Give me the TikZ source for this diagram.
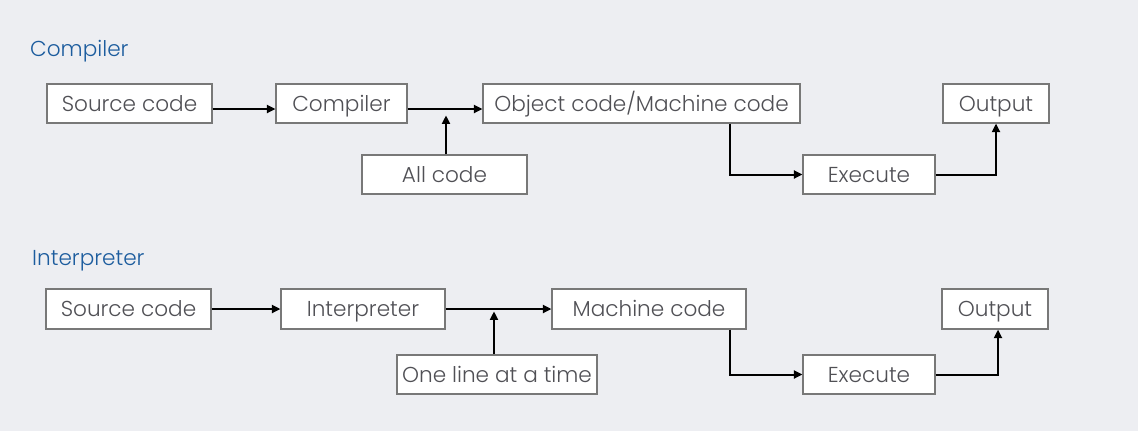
\documentclass[tikz,border=0pt]{standalone}
\usepackage{fontspec}
\setmainfont{Poppins}[UprightFont={* Light}]
\usetikzlibrary{arrows.meta}
\definecolor{bg}{RGB}{237,238,242}
\definecolor{txt}{RGB}{80,80,85}
\definecolor{bord}{RGB}{120,120,120}
\definecolor{ttl}{RGB}{28,92,158}
\begin{document}
\begin{tikzpicture}[x=1bp,y=-1bp,
  box/.style={draw=bord,line width=1.2bp,fill=white,inner sep=0pt,text=txt,
    font=\fontsize{21.6bp}{24bp}\selectfont,minimum height=39bp,
    text height=17bp,text depth=2bp},
  ttlstyle/.style={anchor=base west,inner sep=0pt,text=ttl,font=\fontsize{21.6bp}{24bp}\selectfont},
  arr/.style={draw=black,line width=2bp,-{Triangle[length=8.5bp,width=8bp]}}]
\fill[bg] (0,0) rectangle (1138,431);
\useasboundingbox (0,0) rectangle (1138,431);
% Compiler
\node[ttlstyle] (t1) at (30,56) {Compiler};
\node[box,minimum width=165bp] (src1) at (129.5,103.5) {Source code};
\node[box,minimum width=131bp] (comp) at (341.5,103.5) {Compiler};
\node[box,minimum width=317bp] (obj) at (641.5,103.5) {Object code/Machine code};
\node[box,minimum width=106bp] (out1) at (996,103.5) {Output};
\node[box,minimum width=165bp] (all) at (444.5,174.5) {All code};
\node[box,minimum width=132bp] (exe1) at (869,174.5) {Execute};
\draw[arr] ([yshift=-5.5bp]src1.east) -- ([yshift=-5.5bp]comp.west);
\draw[arr] ([yshift=-5.5bp]comp.east) -- ([yshift=-5.5bp]obj.west);
\draw[arr] ([xshift=1.5bp]all.north) -- ++(0,-39);
\draw[arr] ([xshift=88.5bp]obj.south) |- (exe1.west);
\draw[arr] (exe1.east) -| (out1.south);
% Interpreter
\node[ttlstyle] (t2) at (32,265) {Interpreter};
\node[box,minimum width=165bp,minimum height=40bp] (src2) at (128.5,309) {Source code};
\node[box,minimum width=164bp,minimum height=40bp] (interp) at (363,309) {Interpreter};
\node[box,minimum width=194bp,minimum height=40bp] (mach) at (649,309) {Machine code};
\node[box,minimum width=106bp,minimum height=40bp] (out2) at (995,309) {Output};
\node[box,minimum width=200bp] (one) at (497,374.5) {One line at a time};
\node[box,minimum width=132bp] (exe2) at (869,374.5) {Execute};
\draw[arr] (src2.east) -- (interp.west);
\draw[arr] (interp.east) -- (mach.west);
\draw[arr] ([xshift=-3bp]one.north) -- ++(0,-43);
\draw[arr] ([xshift=81bp]mach.south) |- (exe2.west);
\draw[arr] (exe2.east) -| ([xshift=3bp]out2.south);
\end{tikzpicture}
\end{document}
